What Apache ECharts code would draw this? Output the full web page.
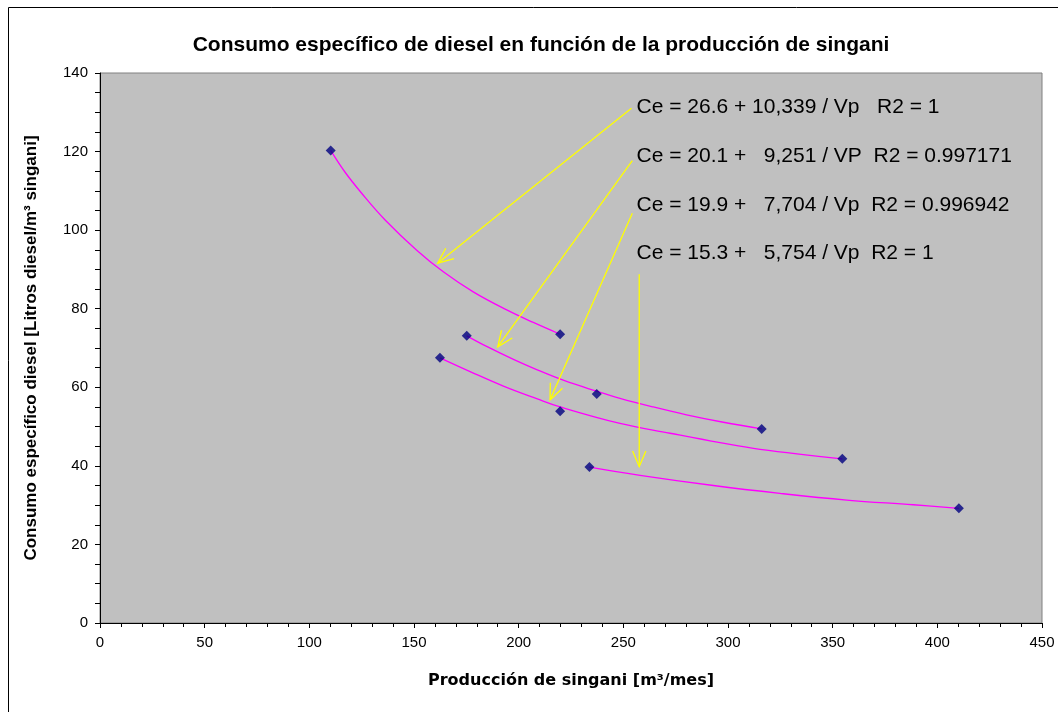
<!DOCTYPE html>
<html>
<head>
<meta charset="utf-8">
<script src="https://cdn.jsdelivr.net/npm/echarts@6/dist/echarts.min.js"></script>
<style>html,body{margin:0;padding:0;background:#fff;}#c{width:1058px;height:712px;}</style>
</head>
<body>
<div id="c"></div>
<script>
// ---- data ----
const titleText = 'Consumo específico de diesel en función de la producción de singani';
const xName = 'Producción de singani [m³/mes]';
const yName = 'Consumo específico diesel [Litros diesel/m³ singani]';

// measured points (Vp, Ce)
const series1 = [[110.2, 120.3], [219.8, 73.5]];
const series2 = [[175.2, 73.1], [237.3, 58.3], [316.1, 49.4]];
const series3 = [[162.4, 67.5], [219.8, 53.9], [354.6, 41.8]];
const series4 = [[233.8, 39.7], [410.3, 29.2]];

// trend curves
const trend1 = [[110.2, 120.3], [117.0, 114.8], [125.0, 109.4], [136.2, 102.6], [151.3, 94.9], [164.0, 89.4], [178.3, 84.3], [194.3, 79.7], [207.0, 76.5], [219.8, 73.5]];
const trend2 = [[175.2, 73.1], [184.7, 70.4], [197.5, 67.1], [208.6, 64.5], [221.3, 61.8], [237.3, 59.0], [248.4, 57.2], [264.3, 55.0], [280.2, 53.0], [297.8, 51.1], [316.1, 49.4]];
const trend3 = [[162.4, 67.5], [176.8, 64.0], [192.7, 60.3], [208.6, 57.1], [219.8, 55.0], [248.4, 50.8], [272.3, 48.3], [296.2, 45.9], [315.3, 44.2], [354.6, 41.8]];
const trend4 = [[233.8, 39.7], [258.0, 37.6], [293.0, 35.0], [324.8, 33.0], [356.7, 31.3], [388.5, 30.1], [410.3, 29.2]];

// equation annotations
const eqTexts = [
  'Ce = 26.6 + 10,339 / Vp   R2 = 1',
  'Ce = 20.1 +   9,251 / VP  R2 = 0.997171',
  'Ce = 19.9 +   7,704 / Vp  R2 = 0.996942',
  'Ce = 15.3 +   5,754 / Vp  R2 = 1'
];
const eqAnchors = [[256.3, 131.4], [256.3, 118.7], [256.3, 106.4], [256.3, 94.1]];
const arrowFrom = [[253.9, 131.0], [254.3, 117.7], [254.3, 104.3], [257.6, 88.8]];
const arrowTo = [[161.3, 91.6], [190.0, 70.3], [215.0, 56.8], [257.6, 39.8]];

const xTicks = {min: 0, max: 450, interval: 50};
const yTicks = {min: 0, max: 140, interval: 20};

// ---- chart ----
const chart = echarts.init(document.getElementById('c'), null, {renderer: 'canvas'});
const FONT = '"Liberation Sans", Arial, sans-serif';
const WIDE = '"DejaVu Sans", Verdana, sans-serif';

const arrowData = arrowFrom.map((f, i) => [f[0], f[1], arrowTo[i][0], arrowTo[i][1]]);

const option = {
  backgroundColor: '#ffffff',
  animation: false,
  title: {
    text: titleText,
    left: 536, top: 30, textAlign: 'center',
    textStyle: {fontFamily: FONT, fontSize: 21, fontWeight: 'bold', color: '#000'}
  },
  graphic: [{
    type: 'rect', silent: true,
    shape: {x: 8.5, y: 7.5, width: 1100, height: 800},
    style: {fill: 'none', stroke: '#000', lineWidth: 1}
  }],
  grid: {
    left: 100, top: 73, width: 942, height: 550,
    show: true, backgroundColor: '#C0C0C0', borderColor: '#808080', borderWidth: 1
  },
  xAxis: {
    type: 'value', min: xTicks.min, max: xTicks.max, interval: xTicks.interval,
    name: xName, nameLocation: 'middle', nameGap: 50,
    nameTextStyle: {fontFamily: WIDE, fontSize: 16, fontWeight: 'bold', color: '#000'},
    axisLine: {show: true, onZero: false, lineStyle: {color: '#000', width: 1}},
    axisTick: {show: true, inside: false, length: 5, lineStyle: {color: '#000'}},
    minorTick: {show: true, splitNumber: 5, length: 4, lineStyle: {color: '#000'}},
    splitLine: {show: false},
    axisLabel: {fontFamily: FONT, fontSize: 15, color: '#000', margin: 12}
  },
  yAxis: {
    type: 'value', min: yTicks.min, max: yTicks.max, interval: yTicks.interval,
    name: yName, nameLocation: 'middle', nameGap: 60, nameRotate: 90,
    nameTextStyle: {fontFamily: FONT, fontSize: 17, fontWeight: 'bold', color: '#000'},
    axisLine: {show: true, onZero: false, lineStyle: {color: '#000', width: 1}},
    axisTick: {show: true, inside: false, length: 5, lineStyle: {color: '#000'}},
    minorTick: {show: true, splitNumber: 4, length: 5, lineStyle: {color: '#000'}},
    splitLine: {show: false},
    axisLabel: {fontFamily: FONT, fontSize: 15, color: '#000', margin: 12}
  },
  series: [
    ...[trend1, trend2, trend3, trend4].map(t => ({
      type: 'line', data: t, smooth: 0.4, showSymbol: false, z: 3,
      lineStyle: {color: '#FF00FF', width: 1.3}
    })),
    ...[series1, series2, series3, series4].map(s => ({
      type: 'scatter', data: s, symbol: 'diamond', symbolSize: 10, z: 5,
      itemStyle: {color: '#000080'}
    })),
    {
      type: 'custom', z: 6, silent: true,
      data: arrowData,
      renderItem: function (params, api) {
        const p0 = api.coord([api.value(0), api.value(1)]);
        const p1 = api.coord([api.value(2), api.value(3)]);
        const ang = Math.atan2(p0[1] - p1[1], p0[0] - p1[0]);
        const L = 17, a = 23 * Math.PI / 180;
        const w1 = [p1[0] + L * Math.cos(ang + a), p1[1] + L * Math.sin(ang + a)];
        const w2 = [p1[0] + L * Math.cos(ang - a), p1[1] + L * Math.sin(ang - a)];
        const st = {stroke: '#FFFF00', lineWidth: 1.3, fill: 'none'};
        return {
          type: 'group',
          children: [
            {type: 'line', shape: {x1: p0[0], y1: p0[1], x2: p1[0], y2: p1[1]}, style: st},
            {type: 'polyline', shape: {points: [w1, p1, w2]}, style: st}
          ]
        };
      }
    },
    {
      type: 'custom', z: 7, silent: true,
      data: eqAnchors.map((a, i) => [a[0], a[1], i]),
      renderItem: function (params, api) {
        const p = api.coord([api.value(0), api.value(1)]);
        return {
          type: 'text',
          style: {
            x: p[0], y: p[1], text: eqTexts[api.value(2)],
            fill: '#000', font: '21px ' + FONT,
            textAlign: 'left', textVerticalAlign: 'middle'
          }
        };
      }
    }
  ]
};
chart.setOption(option);
</script>
</body>
</html>
